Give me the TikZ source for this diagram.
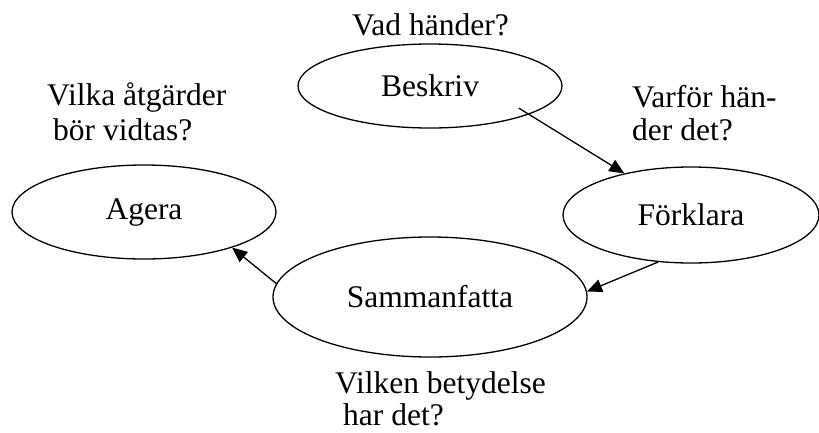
\documentclass[tikz,border=0pt]{standalone}
\usepackage{fontspec}
\setmainfont{Liberation Serif}
\usetikzlibrary{shapes.geometric,arrows.meta}
\begin{document}
\begin{tikzpicture}[x=1pt,y=-1pt,
  every node/.style={font=\fontsize{31.5}{34}\selectfont},
  oval/.style={ellipse,draw,line width=1.3pt,inner sep=0pt},
  lbl/.style={anchor=base west,inner sep=0pt},
  conn/.style={line width=1.3pt,-{Triangle[length=15pt,width=13pt]}}]
\useasboundingbox (0,0) rectangle (819,432);
\node[oval,minimum width=264pt,minimum height=84pt] (b) at (430,86) {Beskriv};
\node[oval,minimum width=264pt,minimum height=94pt] (a) at (144,212) {Agera};
\node[oval,minimum width=256pt,minimum height=96pt] (f) at (691,215) {Förklara};
\node[oval,minimum width=314pt,minimum height=120pt] (s) at (430,297) {Sammanfatta};
\node[lbl] (t1) at (352,35) {Vad händer?};
\node[lbl] (t2a) at (47,105) {Vilka åtgärder};
\node[lbl] (t2b) at (53,140) {bör vidtas?};
\node[lbl] (t3a) at (632,107) {Varför hän-};
\node[lbl] (t3b) at (632,140) {der det?};
\node[lbl] (t4a) at (335,393) {Vilken betydelse};
\node[lbl] (t4b) at (343,425) {har det?};
\draw[conn,shorten <=-12pt] (b.-16) -- (f.148);
\draw[conn] (f.-125) -- (s.2);
\draw[conn] (s.175.6) -- (a.-22);
\end{tikzpicture}
\end{document}
